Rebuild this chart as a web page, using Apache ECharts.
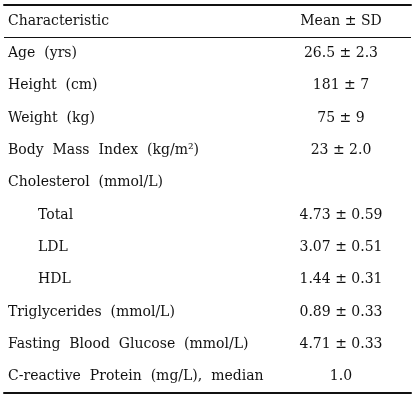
<!DOCTYPE html>
<html>
<head>
<meta charset="utf-8">
<script src="https://cdn.jsdelivr.net/npm/echarts@6/dist/echarts.min.js"></script>
<style>html,body{margin:0;padding:0;background:#fff;}#c{width:414px;height:400px;}</style>
</head>
<body>
<div id="c"></div>
<script>
// ---- data ----
const headerLeft = 'Characteristic';
const headerRight = 'Mean \u00b1 SD';
const characteristics = [
  'Age  (yrs)',
  'Height  (cm)',
  'Weight  (kg)',
  'Body  Mass  Index  (kg/m\u00b2)',
  'Cholesterol  (mmol/L)',
  'Total',
  'LDL',
  'HDL',
  'Triglycerides  (mmol/L)',
  'Fasting  Blood  Glucose  (mmol/L)',
  'C-reactive  Protein  (mg/L),  median'
];
const means    = [26.5, 181, 75, 23, null, 4.73, 3.07, 1.44, 0.89, 4.71, 1.0];
const sds      = [2.3, 7, 9, 2.0, null, 0.59, 0.51, 0.31, 0.33, 0.33, null];
const decimals = [1, 0, 0, 0, null, 2, 2, 2, 2, 2, 1];
const sdDecimals = [1, 0, 0, 1, null, 2, 2, 2, 2, 2, null];
const subRows  = ['Total', 'LDL', 'HDL'];

// ---- build ----
const FONT = 'DejaVu Serif';
const INK = '#111';
const rows = [headerLeft].concat(characteristics);
function cellText(i) {
  if (means[i] == null) return '';
  let t = means[i].toFixed(decimals[i]);
  if (sds[i] != null) t += ' \u00b1 ' + sds[i].toFixed(sdDecimals[i]);
  return t;
}
const VALUE_COL = 0.828;
const valueData = [{ value: [VALUE_COL, headerLeft], text: headerRight }];
characteristics.forEach((c, i) => {
  const t = cellText(i);
  if (t) valueData.push({ value: [VALUE_COL, c], text: t });
});

const chart = echarts.init(document.getElementById('c'));
chart.setOption({
  animation: false,
  grid: { left: 4, right: 3, top: 5, bottom: 7, containLabel: false },
  xAxis: [
    { type: 'value', min: 0, max: 1, position: 'bottom',
      axisLine: { show: true, onZero: false, lineStyle: { color: INK, width: 2 } },
      axisTick: { show: false }, axisLabel: { show: false }, splitLine: { show: false } },
    { type: 'value', min: 0, max: 1, position: 'top',
      axisLine: { show: true, onZero: false, lineStyle: { color: INK, width: 2 } },
      axisTick: { show: false }, axisLabel: { show: false }, splitLine: { show: false } }
  ],
  yAxis: {
    type: 'category', inverse: true, data: rows,
    axisLine: { show: false }, axisTick: { show: false }, splitLine: { show: false },
    axisLabel: {
      inside: true, margin: 4, align: 'left',
      color: INK, fontFamily: FONT, fontSize: 14,
      formatter: v => subRows.indexOf(v) >= 0 ? '{sub|' + v + '}' : v,
      rich: { sub: { padding: [0, 0, 0, 30], color: INK, fontFamily: FONT, fontSize: 14 } }
    }
  },
  series: [{
    type: 'scatter', xAxisIndex: 0, symbolSize: 0, silent: true,
    itemStyle: { opacity: 1 },
    data: valueData,
    label: {
      show: true, position: 'inside', color: INK, opacity: 1, fontFamily: FONT, fontSize: 14,
      formatter: p => p.data.text
    }
  }]
});
const yA = chart.convertToPixel({ yAxisIndex: 0 }, headerLeft);
const yB = chart.convertToPixel({ yAxisIndex: 0 }, characteristics[0]);
const xL = chart.convertToPixel({ xAxisIndex: 0 }, 0);
const xR = chart.convertToPixel({ xAxisIndex: 0 }, 1);
const yMid = Math.round((yA + yB) / 2) + 0.5;
chart.setOption({
  graphic: [{ type: 'line', shape: { x1: xL, y1: yMid, x2: xR, y2: yMid },
    style: { stroke: INK, lineWidth: 1 } }]
});
</script>
</body>
</html>
